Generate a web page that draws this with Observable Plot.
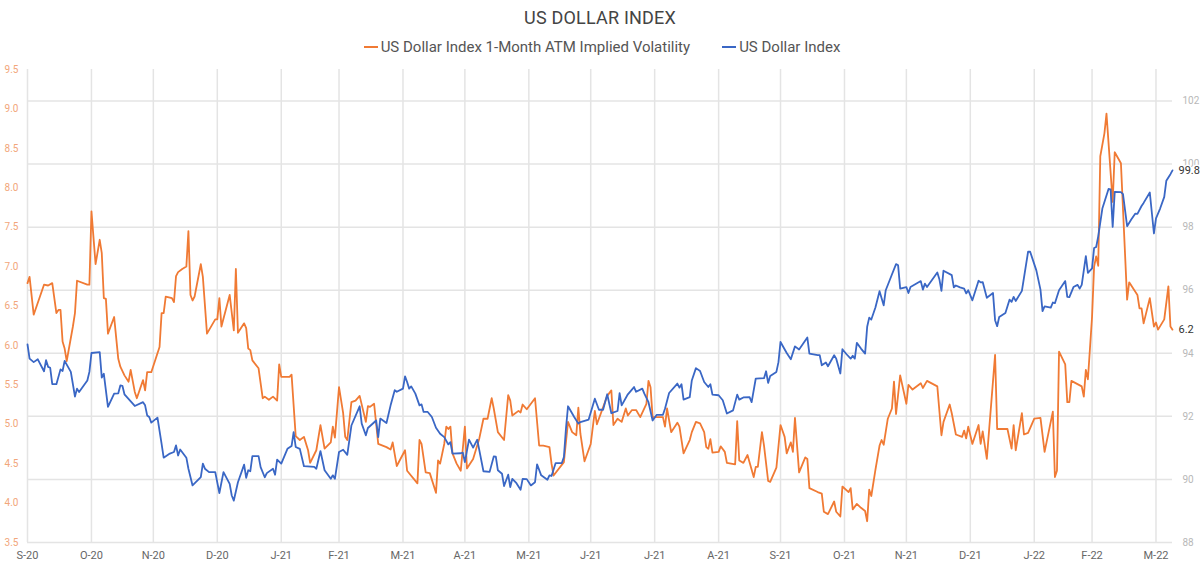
<!DOCTYPE html>
<html>
<head>
<meta charset="utf-8">
<script src="https://cdn.jsdelivr.net/npm/d3@7"></script>
<script src="https://cdn.jsdelivr.net/npm/@observablehq/plot@0.6"></script>
<style>
  html, body { margin: 0; padding: 0; background: #fff; }
  #wrap { position: relative; width: 1200px; height: 567px; font-family: Roboto, "Noto Sans", sans-serif; }
  #title { position: absolute; top: 8px; left: 0; width: 1200px; text-align: center; font-size: 18px; line-height: 20px; color: #444; letter-spacing: 0.2px; }
  #legend { position: absolute; top: 38px; left: 0; width: 1200px; display: flex; justify-content: center; align-items: center; font-size: 15px; line-height: 18px; color: #555; padding-left: 4px; box-sizing: border-box; }
  .item { display: flex; align-items: center; }
  .item + .item { margin-left: 32px; }
  .swatch { width: 14px; height: 2.5px; margin-right: 3px; }
  #chart { position: absolute; top: 60px; left: 0; }
</style>
</head>
<body>
<div id="wrap">
  <div id="title">US DOLLAR INDEX</div>
  <div id="legend"></div>
  <div id="chart"></div>
</div>
<script>
// Series names and colours
const seriesNames = ["US Dollar Index 1-Month ATM Implied Volatility", "US Dollar Index"];
const seriesColors = ["#f07a34", "#3a67c5"];

// 1-month ATM implied volatility (left axis, %)
const volDates = [
"2020-09-30","2020-10-01","2020-10-03","2020-10-08","2020-10-10","2020-10-12","2020-10-14","2020-10-15","2020-10-16","2020-10-17",
"2020-10-18","2020-10-19","2020-10-22","2020-10-23","2020-10-24","2020-10-29","2020-10-30","2020-10-31","2020-11-02","2020-11-04",
"2020-11-05","2020-11-06","2020-11-07","2020-11-08","2020-11-11","2020-11-13","2020-11-14","2020-11-16","2020-11-18","2020-11-19",
"2020-11-21","2020-11-22","2020-11-25","2020-11-26","2020-11-27","2020-11-29","2020-12-03","2020-12-04","2020-12-05","2020-12-06",
"2020-12-09","2020-12-10","2020-12-11","2020-12-12","2020-12-14","2020-12-16","2020-12-17","2020-12-18","2020-12-19","2020-12-20",
"2020-12-23","2020-12-24","2020-12-26","2020-12-30","2020-12-31","2021-01-01","2021-01-02","2021-01-06","2021-01-08","2021-01-09",
"2021-01-10","2021-01-13","2021-01-14","2021-01-15","2021-01-16","2021-01-17","2021-01-20","2021-01-22","2021-01-23","2021-01-25",
"2021-01-27","2021-01-29","2021-01-30","2021-01-31","2021-02-04","2021-02-05","2021-02-07","2021-02-09","2021-02-11","2021-02-13",
"2021-02-14","2021-02-17","2021-02-19","2021-02-21","2021-02-24","2021-02-25","2021-02-26","2021-02-28","2021-03-02","2021-03-03",
"2021-03-04","2021-03-06","2021-03-08","2021-03-10","2021-03-13","2021-03-14","2021-03-15","2021-03-17","2021-03-19","2021-03-23",
"2021-03-25","2021-03-26","2021-03-28","2021-04-01","2021-04-02","2021-04-07","2021-04-08","2021-04-09","2021-04-11","2021-04-13",
"2021-04-16","2021-04-17","2021-04-18","2021-04-20","2021-04-21","2021-04-22","2021-04-23","2021-04-24","2021-04-26","2021-04-28",
"2021-04-30","2021-05-01","2021-05-04","2021-05-07","2021-05-09","2021-05-11","2021-05-13","2021-05-14","2021-05-16","2021-05-19",
"2021-05-21","2021-05-22","2021-05-23","2021-05-26","2021-05-27","2021-05-28","2021-05-30","2021-06-03","2021-06-05","2021-06-07",
"2021-06-10","2021-06-11","2021-06-12","2021-06-17","2021-06-19","2021-06-21","2021-06-23","2021-06-24","2021-06-25","2021-06-27",
"2021-06-30","2021-07-02","2021-07-03","2021-07-08","2021-07-10","2021-07-11","2021-07-13","2021-07-15","2021-07-17","2021-07-18",
"2021-07-20","2021-07-22","2021-07-24","2021-07-27","2021-07-28","2021-07-29","2021-07-30","2021-08-01","2021-08-04","2021-08-05",
"2021-08-06","2021-08-08","2021-08-11","2021-08-12","2021-08-14","2021-08-17","2021-08-18","2021-08-20","2021-08-22","2021-08-24",
"2021-08-25","2021-08-26","2021-08-27","2021-08-28","2021-08-31","2021-09-01","2021-09-03","2021-09-04","2021-09-08","2021-09-09",
"2021-09-10","2021-09-12","2021-09-14","2021-09-17","2021-09-18","2021-09-19","2021-09-21","2021-09-22","2021-09-24","2021-09-25",
"2021-09-28","2021-09-30","2021-10-02","2021-10-03","2021-10-05","2021-10-06","2021-10-07","2021-10-09","2021-10-12","2021-10-13",
"2021-10-14","2021-10-18","2021-10-20","2021-10-21","2021-10-23","2021-10-26","2021-10-27","2021-10-29","2021-10-30","2021-11-02",
"2021-11-03","2021-11-04","2021-11-06","2021-11-08","2021-11-10","2021-11-11","2021-11-12","2021-11-13","2021-11-15","2021-11-17",
"2021-11-18","2021-11-19","2021-11-21","2021-11-23","2021-11-24","2021-11-25","2021-11-27","2021-11-30","2021-12-01","2021-12-03",
"2021-12-07","2021-12-08","2021-12-10","2021-12-15","2021-12-17","2021-12-18","2021-12-21","2021-12-22","2021-12-24","2021-12-27",
"2021-12-28","2021-12-29","2021-12-30","2022-01-01","2022-01-04","2022-01-05","2022-01-06","2022-01-08","2022-01-12","2022-01-13",
"2022-01-18","2022-01-20","2022-01-21","2022-01-22","2022-01-25","2022-01-26","2022-01-28","2022-01-31","2022-02-03","2022-02-05",
"2022-02-09","2022-02-10","2022-02-11","2022-02-12","2022-02-15","2022-02-16","2022-02-17","2022-02-18","2022-02-23","2022-02-24",
"2022-02-25","2022-02-26","2022-02-28","2022-03-01","2022-03-02","2022-03-03","2022-03-04","2022-03-06","2022-03-07","2022-03-10",
"2022-03-11","2022-03-14","2022-03-17","2022-03-18","2022-03-22","2022-03-23","2022-03-24","2022-03-25","2022-03-28","2022-03-30",
"2022-03-31","2022-04-01","2022-04-04","2022-04-06","2022-04-07","2022-04-08"
];
const volValues = [
6.79,6.87,6.39,6.77,6.76,6.79,6.41,6.45,6.45,6.05,
5.96,5.80,6.24,6.41,6.82,6.77,6.77,7.70,7.03,7.34,
7.17,6.60,6.59,6.15,6.36,5.83,5.73,5.62,5.54,5.69,
5.41,5.33,5.56,5.43,5.66,5.66,5.98,6.41,6.41,6.62,
6.60,6.55,6.88,6.93,6.97,7.00,7.45,6.64,6.57,6.62,
7.03,6.87,6.15,6.33,6.33,6.60,6.24,6.64,6.19,6.97,
6.16,6.28,6.22,5.96,5.94,5.81,5.71,5.33,5.35,5.31,
5.35,5.30,5.76,5.60,5.60,5.63,4.85,4.80,4.84,4.67,
4.51,4.67,4.99,4.69,4.77,4.97,4.83,5.47,5.14,4.84,
4.80,5.28,5.30,5.36,5.03,5.23,5.22,5.26,4.75,4.71,
4.68,4.77,4.47,4.67,4.41,4.25,4.80,4.75,4.39,4.38,
4.13,4.54,4.50,4.75,4.97,4.94,4.97,4.63,4.50,4.41,
4.97,4.44,4.56,4.82,5.07,5.07,5.33,5.20,4.90,4.80,
5.37,5.30,5.11,5.17,5.15,5.25,5.19,5.33,4.73,4.73,
4.71,4.50,4.35,4.52,5.03,4.90,4.86,5.21,4.88,4.53,
4.75,5.17,5.00,5.36,5.43,4.99,5.07,5.03,5.20,5.11,
5.18,5.18,5.09,5.26,5.55,5.47,5.09,5.09,5.09,4.97,
5.20,4.90,5.02,4.97,4.63,4.80,4.90,5.03,5.01,4.90,
4.71,4.69,4.81,4.64,4.65,4.72,4.65,4.51,4.49,5.04,
4.54,4.51,4.61,4.33,4.46,4.46,4.90,4.73,4.28,4.27,
4.45,4.99,4.84,4.63,4.77,4.65,5.08,4.39,4.58,4.56,
4.19,4.14,4.12,3.89,3.86,4.02,3.89,3.83,4.21,4.14,
4.19,3.92,3.99,3.94,3.90,3.77,4.17,4.09,4.42,4.73,
4.80,4.74,5.07,5.20,5.54,5.13,5.62,5.26,5.50,5.44,
5.52,5.46,5.55,5.48,4.86,5.03,5.25,5.14,4.87,4.84,
4.92,4.82,4.97,4.75,4.99,4.75,4.91,4.56,5.88,4.94,
4.94,4.69,4.99,4.67,5.14,4.87,4.89,5.07,5.08,4.65,
5.16,4.33,4.41,5.92,5.76,5.28,5.28,5.55,5.48,5.35,
5.69,5.57,6.36,7.00,7.13,7.01,8.40,8.69,8.94,7.82,
8.45,8.31,6.58,6.80,6.64,6.47,6.47,6.28,6.60,6.24,
6.29,6.20,6.33,6.75,6.24,6.2
];

// US Dollar Index level (right axis)
const dxyDates = [
"2020-09-30","2020-10-01","2020-10-03","2020-10-05","2020-10-08","2020-10-09","2020-10-10","2020-10-11","2020-10-12","2020-10-14",
"2020-10-16","2020-10-17","2020-10-18","2020-10-21","2020-10-23","2020-10-24","2020-10-25","2020-10-29","2020-10-30","2020-10-31",
"2020-11-04","2020-11-05","2020-11-06","2020-11-08","2020-11-11","2020-11-13","2020-11-14","2020-11-15","2020-11-16","2020-11-21",
"2020-11-25","2020-11-26","2020-11-27","2020-11-28","2020-11-29","2020-12-02","2020-12-04","2020-12-05","2020-12-08","2020-12-10",
"2020-12-11","2020-12-12","2020-12-13","2020-12-16","2020-12-17","2020-12-19","2020-12-23","2020-12-24","2020-12-25","2020-12-27",
"2020-12-30","2021-01-01","2021-01-03","2021-01-06","2021-01-07","2021-01-08","2021-01-10","2021-01-13","2021-01-14","2021-01-15",
"2021-01-16","2021-01-17","2021-01-20","2021-01-21","2021-01-23","2021-01-24","2021-01-27","2021-01-28","2021-01-29","2021-01-31",
"2021-02-03","2021-02-05","2021-02-06","2021-02-07","2021-02-09","2021-02-11","2021-02-16","2021-02-17","2021-02-19","2021-02-21",
"2021-02-24","2021-02-25","2021-02-26","2021-02-28","2021-03-02","2021-03-04","2021-03-06","2021-03-10","2021-03-11","2021-03-13",
"2021-03-14","2021-03-18","2021-03-19","2021-03-20","2021-03-23","2021-03-25","2021-03-27","2021-03-28","2021-03-31","2021-04-01",
"2021-04-02","2021-04-03","2021-04-04","2021-04-06","2021-04-08","2021-04-09","2021-04-10","2021-04-12","2021-04-14","2021-04-16",
"2021-04-18","2021-04-20","2021-04-22","2021-04-23","2021-04-24","2021-04-28","2021-04-29","2021-04-30","2021-05-02","2021-05-04",
"2021-05-06","2021-05-09","2021-05-12","2021-05-14","2021-05-15","2021-05-16","2021-05-18","2021-05-19","2021-05-21","2021-05-22",
"2021-05-23","2021-05-25","2021-05-27","2021-05-28","2021-05-30","2021-06-01","2021-06-03","2021-06-04","2021-06-06","2021-06-09",
"2021-06-10","2021-06-11","2021-06-13","2021-06-16","2021-06-17","2021-06-18","2021-06-19","2021-06-22","2021-06-24","2021-06-25",
"2021-06-29","2021-07-02","2021-07-04","2021-07-06","2021-07-08","2021-07-10","2021-07-13","2021-07-14","2021-07-15","2021-07-18",
"2021-07-21","2021-07-22","2021-07-25","2021-07-26","2021-07-28","2021-07-30","2021-08-01","2021-08-04","2021-08-05","2021-08-07",
"2021-08-11","2021-08-12","2021-08-13","2021-08-14","2021-08-17","2021-08-18","2021-08-20","2021-08-22","2021-08-24","2021-08-26",
"2021-08-27","2021-08-28","2021-08-31","2021-09-02","2021-09-04","2021-09-07","2021-09-09","2021-09-10","2021-09-12","2021-09-15",
"2021-09-16","2021-09-18","2021-09-22","2021-09-23","2021-09-24","2021-09-25","2021-09-28","2021-09-29","2021-09-30","2021-10-03",
"2021-10-05","2021-10-07","2021-10-09","2021-10-13","2021-10-14","2021-10-18","2021-10-19","2021-10-20","2021-10-22","2021-10-23",
"2021-10-26","2021-10-27","2021-10-29","2021-10-30","2021-11-01","2021-11-03","2021-11-04","2021-11-05","2021-11-06","2021-11-08",
"2021-11-10","2021-11-11","2021-11-12","2021-11-13","2021-11-15","2021-11-17","2021-11-19","2021-11-20","2021-11-23","2021-11-25",
"2021-11-26","2021-11-27","2021-11-30","2021-12-01","2021-12-02","2021-12-07","2021-12-08","2021-12-09","2021-12-10","2021-12-15",
"2021-12-16","2021-12-17","2021-12-18","2021-12-22","2021-12-23","2021-12-24","2021-12-26","2021-12-28","2021-12-29","2021-12-30",
"2022-01-01","2022-01-04","2022-01-05","2022-01-06","2022-01-08","2022-01-11","2022-01-12","2022-01-13","2022-01-14","2022-01-17",
"2022-01-19","2022-01-20","2022-01-21","2022-01-22","2022-01-25","2022-01-28","2022-01-29","2022-02-01","2022-02-03","2022-02-04",
"2022-02-05","2022-02-08","2022-02-09","2022-02-10","2022-02-12","2022-02-15","2022-02-16","2022-02-17","2022-02-19","2022-02-21",
"2022-02-22","2022-02-23","2022-02-25","2022-02-26","2022-02-28","2022-03-01","2022-03-02","2022-03-03","2022-03-05","2022-03-08",
"2022-03-09","2022-03-10","2022-03-11","2022-03-14","2022-03-15","2022-03-17","2022-03-19","2022-03-21","2022-03-22","2022-03-24",
"2022-03-25","2022-03-28","2022-03-30","2022-03-31","2022-04-02","2022-04-04","2022-04-05","2022-04-07","2022-04-08"
];
const dxyValues = [
94.28,93.83,93.72,93.81,93.43,93.78,93.57,93.54,93.02,93.02,
93.49,93.44,93.76,93.41,92.63,92.88,92.77,93.14,93.41,94.01,
94.04,93.23,93.35,92.30,92.72,92.73,92.98,92.97,92.70,92.33,
92.45,92.35,92.03,91.98,91.80,91.96,91.13,90.69,90.82,90.87,
91.08,90.76,90.95,90.69,90.34,89.81,90.07,90.50,90.34,90.23,
90.23,89.57,90.23,89.86,89.49,89.33,89.91,90.47,90.05,90.29,
90.26,90.74,90.74,90.39,90.07,90.20,90.34,90.15,90.63,90.50,
90.97,91.06,91.50,91.03,90.97,90.42,90.40,90.34,90.90,90.29,
90.02,90.13,90.02,90.87,90.94,90.78,91.71,92.32,91.77,91.40,
91.63,91.87,91.34,91.93,91.79,92.35,92.83,92.78,92.88,93.27,
93.09,92.88,92.95,92.72,92.35,92.38,92.14,92.14,91.98,91.64,
91.45,91.34,91.11,91.18,90.82,90.83,90.85,90.55,91.26,91.01,
91.26,90.26,90.24,90.73,90.72,90.29,90.18,89.79,90.15,89.76,
90.02,89.88,89.67,90.02,90.01,89.81,89.91,90.48,90.13,89.99,
90.13,90.11,90.52,90.52,90.71,91.61,92.32,91.98,91.77,91.82,
91.90,92.56,92.21,92.21,92.70,92.10,92.17,92.74,92.35,92.70,
92.93,92.78,92.88,92.72,92.45,91.87,92.05,92.05,92.24,92.74,
93.04,92.91,93.02,92.53,92.61,93.14,93.53,93.44,93.09,92.93,
93.02,92.69,92.67,92.51,92.09,92.19,92.69,92.53,92.60,92.61,
92.45,93.20,93.21,93.43,93.06,93.28,93.41,93.72,94.36,94.01,
93.81,94.22,94.12,94.50,93.99,93.94,93.94,93.62,93.71,93.59,
93.94,93.83,93.36,94.13,93.97,93.83,93.92,93.83,94.33,94.15,
93.99,94.84,95.13,95.07,95.45,95.97,95.52,96.00,96.50,96.83,
96.79,96.05,96.10,95.91,96.10,96.29,96.02,96.21,96.10,96.56,
96.35,95.98,96.62,96.48,96.09,96.15,96.09,96.05,95.90,96.00,
95.68,96.30,96.25,96.26,95.76,95.91,95.05,94.86,95.15,95.28,
95.70,95.63,95.79,95.66,95.98,97.22,97.22,96.63,96.02,95.34,
95.49,95.45,95.61,95.59,96.00,96.29,95.79,95.78,96.10,96.17,
96.05,96.17,97.08,96.55,96.69,97.34,97.37,97.71,98.59,99.21,
99.20,98.01,99.12,99.11,99.05,98.03,98.24,98.43,98.42,98.67,
98.77,99.10,97.80,98.28,98.59,98.96,99.47,99.68,99.8
];

// Axis ticks
const volTicks = [3.5, 4.0, 4.5, 5.0, 5.5, 6.0, 6.5, 7.0, 7.5, 8.0, 8.5, 9.0, 9.5];
const dxyTicks = [88, 90, 92, 94, 96, 98, 100, 102];
const monthTickDates = [
"2020-09-30","2020-10-31","2020-11-30","2020-12-31","2021-01-31","2021-02-28","2021-03-31","2021-04-30","2021-05-31","2021-06-30",
"2021-07-31","2021-08-31","2021-09-30","2021-10-31","2021-11-30","2021-12-31","2022-01-31","2022-02-28","2022-03-31"
];
const monthTickLabels = [
"S-20","O-20","N-20","D-20","J-21","F-21","M-21","A-21","M-21","J-21",
"J-21","A-21","S-21","O-21","N-21","D-21","J-22","F-22","M-22"
];

// Left (volatility) and right (index) domains; the index is drawn on the left scale
const volDomain = [3.5, 9.5];
const dxyDomain = [88, 103];
const toLeft = v => volDomain[0] + (v - dxyDomain[0]) * (volDomain[1] - volDomain[0]) / (dxyDomain[1] - dxyDomain[0]);
const fromLeft = v => dxyDomain[0] + (v - volDomain[0]) * (dxyDomain[1] - dxyDomain[0]) / (volDomain[1] - volDomain[0]);

const parse = d3.utcParse("%Y-%m-%d");
const vol = volDates.map((d, i) => ({date: parse(d), value: volValues[i]}));
const dxy = dxyDates.map((d, i) => ({date: parse(d), value: dxyValues[i]}));
const monthTicks = monthTickDates.map(parse);
const monthLabel = new Map(monthTicks.map((d, i) => [+d, monthTickLabels[i]]));
const lastVol = vol[vol.length - 1];
const lastDxy = dxy[dxy.length - 1];

// Legend
const legend = document.getElementById("legend");
seriesNames.forEach((name, i) => {
  const item = document.createElement("div");
  item.className = "item";
  const sw = document.createElement("div");
  sw.className = "swatch";
  sw.style.background = seriesColors[i];
  const label = document.createElement("span");
  label.textContent = name;
  item.append(sw, label);
  legend.append(item);
});

const grid = "#e4e4e4";

const chart = Plot.plot({
  width: 1200,
  height: 507,
  marginTop: 9,
  marginBottom: 25,
  marginLeft: 27,
  marginRight: 28,
  style: {fontFamily: "Roboto, 'Noto Sans', sans-serif", background: "transparent", overflow: "visible"},
  x: {type: "utc", domain: [parse("2020-09-30"), parse("2022-04-08")]},
  y: {domain: volDomain},
  marks: [
    Plot.ruleY(dxyTicks, {y: d => toLeft(d), stroke: grid, strokeWidth: 1.5}),
    Plot.ruleX(monthTicks, {x: d => d, stroke: grid, strokeWidth: 1.5}),
    Plot.axisY({ticks: volTicks, anchor: "left", tickSize: 0, tickPadding: 9, tickFormat: d => d.toFixed(1), fill: "#f2a67a", fontSize: 10, label: null}),
    Plot.axisY({ticks: dxyTicks.map(toLeft), anchor: "right", tickSize: 0, tickPadding: 10, tickFormat: d => String(Math.round(fromLeft(d))), fill: "#b8b8b8", fontSize: 10, label: null}),
    Plot.axisX({ticks: monthTicks, tickSize: 0, tickPadding: 9, tickFormat: d => monthLabel.get(+d), fill: "#666", fontSize: 11, label: null}),
    Plot.line(vol, {x: "date", y: "value", stroke: seriesColors[0], strokeWidth: 1.8}),
    Plot.line(dxy, {x: "date", y: d => toLeft(d.value), stroke: seriesColors[1], strokeWidth: 1.8}),
    // Latest values, with a white halo so they sit cleanly over the right-axis labels
    Plot.text([lastDxy], {x: "date", y: d => toLeft(d.value), text: d => d.value.toFixed(1), dx: 6, textAnchor: "start", fill: "#333", stroke: "white", strokeWidth: 3, fontSize: 11}),
    Plot.text([lastVol], {x: "date", y: "value", text: d => d.value.toFixed(1), dx: 6, textAnchor: "start", fill: "#333", stroke: "white", strokeWidth: 3, fontSize: 11})
  ]
});
document.getElementById("chart").append(chart);
</script>
</body>
</html>
